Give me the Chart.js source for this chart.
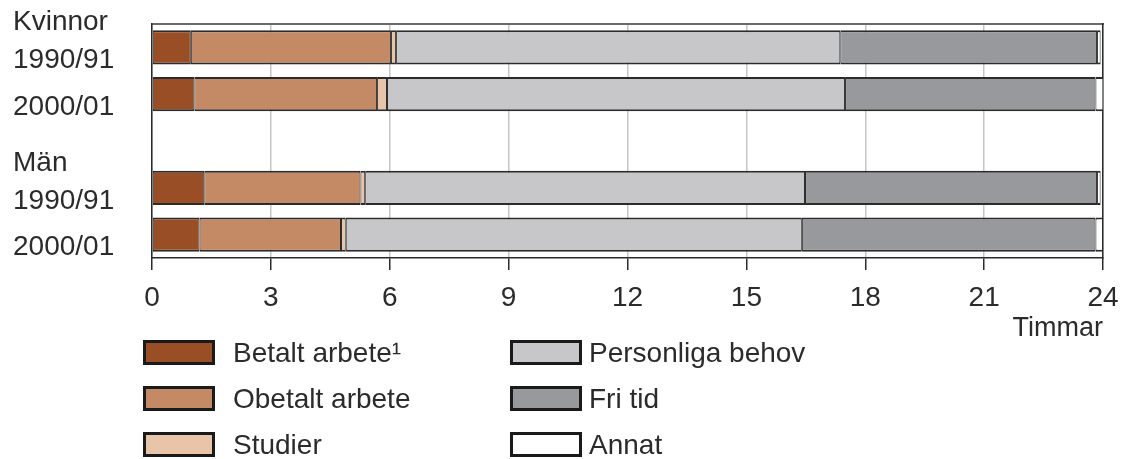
<!DOCTYPE html>
<html>
<head>
<meta charset="utf-8">
<script src="https://cdn.jsdelivr.net/npm/chart.js@4/dist/chart.umd.min.js"></script>
<style>
html,body{margin:0;padding:0;background:#fff;}
canvas{display:block;}
</style>
</head>
<body>
<canvas id="c" width="1122" height="459"></canvas>
<script>
// ---- data ----
const categories = [['Kvinnor', '1990/91'], ['', '2000/01'], '', ['Män', '1990/91'], ['', '2000/01']];
const seriesNames = ['Betalt arbete¹', 'Obetalt arbete', 'Studier', 'Personliga behov', 'Fri tid', 'Annat'];
const betalt     = [0.98, 1.07, null, 1.32, 1.20];
const obetalt    = [5.05, 4.61, null, 3.94, 3.57];
const studier    = [0.13, 0.25, null, 0.12, 0.12];
const personliga = [11.21, 11.56, null, 11.10, 11.51];
const friTid     = [6.48, 6.32, null, 7.37, 7.41];
const annat      = [0.09, 0.20, null, 0.09, 0.19];
const axisTitle = 'Timmar';

const seriesValues = [betalt, obetalt, studier, personliga, friTid, annat];
const colors = ['#9a4e25', '#c48a65', '#e8c4a8', '#c7c7c9', '#98999d', '#ffffff'];

const FONT = "'Liberation Sans', Arial, Helvetica, sans-serif";
const TEXT = '#2b2b2b';
Chart.defaults.font.family = FONT;
Chart.defaults.color = TEXT;

function noPad(s) { s.paddingLeft = 0; s.paddingRight = 0; s.paddingTop = 0; s.paddingBottom = 0; }

const legendPlugin = {
  id: 'columnLegend',
  afterDraw(chart) {
    const ctx = chart.ctx;
    const cols = [{box: 143, text: 233}, {box: 510, text: 589}];
    const rows = [340, 386, 432];
    ctx.save();
    chart.data.datasets.forEach((d, i) => {
      const c = cols[Math.floor(i / 3)];
      const top = rows[i % 3];
      ctx.fillStyle = d.backgroundColor;
      ctx.fillRect(c.box, top, 72, 25);
      ctx.lineWidth = 3;
      ctx.strokeStyle = '#1a1a1a';
      ctx.strokeRect(c.box + 1.5, top + 1.5, 69, 22);
      ctx.fillStyle = TEXT;
      ctx.font = '28px ' + FONT;
      ctx.textBaseline = 'middle';
      ctx.textAlign = 'left';
      ctx.fillText(d.label, c.text, top + 14);
    });
    ctx.restore();
  }
};

new Chart(document.getElementById('c'), {
  type: 'bar',
  data: {
    labels: categories,
    datasets: seriesNames.map((name, i) => ({
      label: name,
      data: seriesValues[i],
      backgroundColor: colors[i],
      borderColor: '#2b2b2b',
      borderWidth: {top: 2, bottom: 2, left: 1, right: 1},
      borderSkipped: false,
      barPercentage: 0.73,
      categoryPercentage: 1
    }))
  },
  options: {
    indexAxis: 'y',
    responsive: false,
    animation: false,
    devicePixelRatio: 1,
    layout: {padding: {left: 13, right: 19, top: 24, bottom: 113}},
    plugins: {legend: {display: false}, tooltip: {enabled: false}},
    scales: {
      x: {
        type: 'linear', position: 'bottom', stacked: true, min: 0, max: 24,
        ticks: {stepSize: 3, font: {size: 28}, color: TEXT, padding: 11, maxRotation: 0, autoSkip: false},
        grid: {color: '#c6c6c6', lineWidth: 1.5, tickColor: '#2b2b2b', tickLength: 12, tickWidth: 1.5},
        border: {display: true, color: '#2b2b2b', width: 1.5},
        title: {display: true, text: axisTitle, align: 'end', font: {size: 27}, color: TEXT, padding: {top: 0, bottom: 1}},
        afterFit: s => { s.height = 88; noPad(s); }
      },
      x2: {
        type: 'linear', position: 'top', min: 0, max: 24,
        ticks: {display: false},
        grid: {display: false, drawTicks: false},
        border: {display: true, color: '#6a6a6a', width: 2},
        afterFit: s => { s.height = 0; noPad(s); }
      },
      y: {
        type: 'category', position: 'left', stacked: true,
        ticks: {font: {size: 28, lineHeight: '38px'}, color: TEXT, crossAlign: 'far', labelOffset: -6, padding: 0, autoSkip: false},
        grid: {display: false, drawTicks: false},
        border: {display: true, color: '#2b2b2b', width: 1.5},
        afterFit: s => { s.width = 139; noPad(s); }
      },
      y2: {
        type: 'linear', position: 'right', min: 0, max: 1,
        ticks: {display: false},
        grid: {display: false, drawTicks: false},
        border: {display: true, color: '#2b2b2b', width: 1.5},
        afterFit: s => { s.width = 0; noPad(s); }
      }
    }
  },
  plugins: [legendPlugin]
});
</script>
</body>
</html>
